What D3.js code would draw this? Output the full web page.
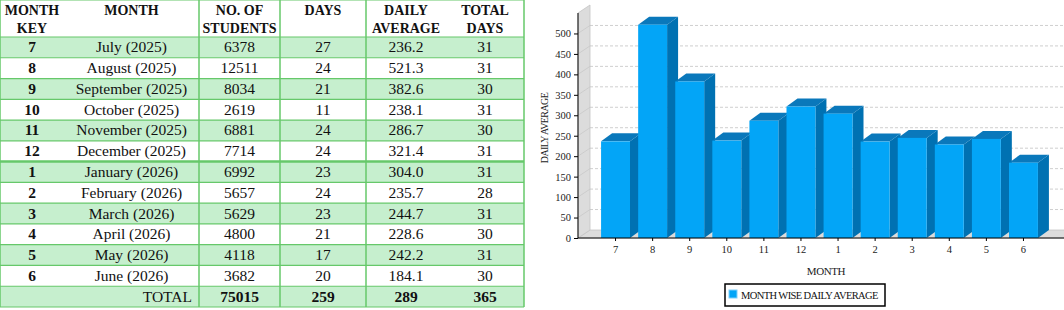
<!DOCTYPE html>
<html>
<head>
<meta charset="utf-8">
<script src="https://cdn.jsdelivr.net/npm/d3@7"></script>
<style>
  html, body { margin: 0; padding: 0; background: #fff; }
  svg { display: block; }
</style>
</head>
<body>
<div id="chart"></div>
<script>
// table + chart data
const month_keys = [7, 8, 9, 10, 11, 12, 1, 2, 3, 4, 5, 6];
const month_names = ["July (2025)", "August (2025)", "September (2025)", "October (2025)",
    "November (2025)", "December (2025)", "January (2026)", "February (2026)",
    "March (2026)", "April (2026)", "May (2026)", "June (2026)"];
const students = [6378, 12511, 8034, 2619, 6881, 7714, 6992, 5657, 5629, 4800, 4118, 3682];
const days = [27, 24, 21, 11, 24, 24, 23, 24, 23, 21, 17, 20];
const daily_average = [236.2, 521.3, 382.6, 238.1, 286.7, 321.4, 304.0, 235.7, 244.7, 228.6, 242.2, 184.1];
const total_days = [31, 31, 30, 31, 30, 31, 31, 28, 31, 30, 31, 30];
const total_row = ["", "TOTAL", "75015", "259", "289", "365"];
const header_lines = [["MONTH", "KEY"], ["MONTH"], ["NO. OF", "STUDENTS"], ["DAYS"], ["DAILY", "AVERAGE"], ["TOTAL", "DAYS"]];
const y_tick_values = [0, 50, 100, 150, 200, 250, 300, 350, 400, 450, 500];
const legend_label = "MONTH WISE DAILY AVERAGE";

const width = 1064;
const height = 310;

const green_fill = "#c6efce";
const green_line = "#66c86a";
const bar_front = "#03a5f7";
const bar_top = "#0a78bb";
const bar_side = "#0071b2";
const wall_color = "#dcdcdc";

const svg = d3.select("#chart").append("svg")
    .attr("width", width)
    .attr("height", height);

// ---------------- table ----------------
const col_edges = [0, 64, 199, 280, 366, 446, 524];
const header_bottom = 37;
const table_bottom = 307;

const rows = month_keys.map((k, i) => [
    String(k), month_names[i], String(students[i]), String(days[i]),
    daily_average[i].toFixed(1), String(total_days[i])
]);
rows.push(total_row);

const row_scale = d3.scaleBand()
    .domain(d3.range(rows.length))
    .range([header_bottom, table_bottom]);

const table = svg.append("g").attr("font-family", "'Liberation Serif', serif").attr("fill", "#111");

// row backgrounds (odd/even striping)
table.selectAll("rect.row-bg")
    .data(rows)
    .join("rect")
    .attr("class", "row-bg")
    .attr("x", 0)
    .attr("y", (d, i) => row_scale(i))
    .attr("width", col_edges[col_edges.length - 1])
    .attr("height", row_scale.bandwidth())
    .attr("fill", (d, i) => i % 2 === 0 ? green_fill : "#fff");

// horizontal lines
const h_lines = [0].concat(d3.range(rows.length + 1).map(i => i === rows.length ? table_bottom : row_scale(i)));
table.selectAll("line.h")
    .data(h_lines)
    .join("line")
    .attr("class", "h")
    .attr("x1", 0)
    .attr("x2", col_edges[col_edges.length - 1])
    .attr("y1", d => d)
    .attr("y2", d => d)
    .attr("stroke", green_line)
    .attr("stroke-width", (d, i) => i === 7 ? 2.5 : 1.2);

// vertical lines
const v_lines = [0, 199, 280, 366, 524];
table.selectAll("line.v")
    .data(v_lines)
    .join("line")
    .attr("class", "v")
    .attr("x1", d => d)
    .attr("x2", d => d)
    .attr("y1", 0)
    .attr("y2", table_bottom)
    .attr("stroke", green_line)
    .attr("stroke-width", 1.5);

// header text
header_lines.forEach((lines, c) => {
    const cx = (col_edges[c] + col_edges[c + 1]) / 2;
    lines.forEach((t, j) => {
        table.append("text")
            .attr("x", cx)
            .attr("y", 15 + j * 18)
            .attr("text-anchor", "middle")
            .attr("font-weight", "bold")
            .attr("font-size", 14)
            .text(t);
    });
});

// body text
rows.forEach((row, i) => {
    const is_total = i === rows.length - 1;
    row.forEach((t, c) => {
        if (t === "") return;
        let x = (col_edges[c] + col_edges[c + 1]) / 2;
        let anchor = "middle";
        if (is_total && c === 1) { x = 192; anchor = "end"; }
        table.append("text")
            .attr("x", x)
            .attr("y", row_scale(i) + row_scale.bandwidth() / 2 + 5)
            .attr("text-anchor", anchor)
            .attr("font-size", 15.5)
            .attr("font-weight", (c === 0 || (is_total && c > 1)) ? "bold" : "normal")
            .text(t);
    });
});

// ---------------- 3D bar chart ----------------
const axis_x = 578;
const right_edge = 1070;
const depth_x = 12;
const depth_y = 8;
const bar_dx = 11;
const bar_dy = 8;

const x = d3.scaleBand()
    .domain(month_keys.map(String))
    .range([597, 1042])
    .paddingInner(0.22)
    .paddingOuter(0.11);

const y = d3.scaleLinear()
    .domain([0, 550])
    .range([238, 13]);

const chart = svg.append("g");

// back grid lines (dashed)
chart.selectAll("line.grid")
    .data(y_tick_values.filter(v => v > 0))
    .join("line")
    .attr("class", "grid")
    .attr("x1", axis_x + depth_x)
    .attr("x2", right_edge)
    .attr("y1", d => y(d) - depth_y)
    .attr("y2", d => y(d) - depth_y)
    .attr("stroke", "#cfcfcf")
    .attr("stroke-dasharray", "3,2");

// floor
chart.append("path")
    .attr("d", `M${axis_x},${y(0)}L${axis_x + depth_x},${y(0) - depth_y}L${right_edge},${y(0) - depth_y}L${right_edge},${y(0)}Z`)
    .attr("fill", wall_color)
    .attr("stroke", "#c4c4c4")
    .attr("stroke-width", 0.8);

// side wall
chart.append("path")
    .attr("d", `M${axis_x},${y(0)}L${axis_x},${y(550)}L${axis_x + depth_x},${y(550) - depth_y}L${axis_x + depth_x},${y(0) - depth_y}Z`)
    .attr("fill", wall_color)
    .attr("stroke", "#c4c4c4")
    .attr("stroke-width", 0.8);

// side wall grid lines
chart.selectAll("line.wallgrid")
    .data(y_tick_values.filter(v => v > 0))
    .join("line")
    .attr("class", "wallgrid")
    .attr("x1", axis_x)
    .attr("x2", axis_x + depth_x)
    .attr("y1", d => y(d))
    .attr("y2", d => y(d) - depth_y)
    .attr("stroke", "#c6c6c6")
    .attr("stroke-width", 0.7);

// bars
const bars = chart.selectAll("g.bar")
    .data(month_keys.map((k, i) => ({key: String(k), value: daily_average[i]})))
    .join("g")
    .attr("class", "bar");

bars.append("path")
    .attr("d", d => {
        const x1 = x(d.key) + x.bandwidth();
        return `M${x1},${y(0)}L${x1},${y(d.value)}L${x1 + bar_dx},${y(d.value) - bar_dy}L${x1 + bar_dx},${y(0) - bar_dy}Z`;
    })
    .attr("fill", bar_side);

bars.append("path")
    .attr("d", d => {
        const x0 = x(d.key);
        const x1 = x0 + x.bandwidth();
        const yt = y(d.value);
        return `M${x0},${yt}L${x0 + bar_dx},${yt - bar_dy}L${x1 + bar_dx},${yt - bar_dy}L${x1},${yt}Z`;
    })
    .attr("fill", bar_top);

bars.append("rect")
    .attr("x", d => x(d.key))
    .attr("y", d => y(d.value))
    .attr("width", x.bandwidth())
    .attr("height", d => y(0) - y(d.value))
    .attr("fill", bar_front);

// y axis
const y_axis = chart.append("g")
    .attr("transform", `translate(${axis_x},0)`)
    .call(d3.axisLeft(y).tickValues(y_tick_values).tickSize(4).tickPadding(3));
y_axis.select(".domain").attr("d", `M0,${y(550)}V${y(0)}`).attr("stroke", "#000");

// x axis
const x_axis = chart.append("g")
    .attr("transform", `translate(0,${y(0)})`)
    .call(d3.axisBottom(x).tickSize(3).tickPadding(5));
x_axis.select(".domain").attr("d", `M${axis_x},0H${right_edge}`).attr("stroke", "#000");

chart.selectAll(".tick text")
    .attr("font-family", "'Liberation Serif', serif")
    .attr("font-size", 10.5)
    .attr("fill", "#222");

// axis titles
chart.append("text")
    .attr("transform", `translate(548,128) rotate(-90)`)
    .attr("text-anchor", "middle")
    .attr("font-family", "'Liberation Serif', serif")
    .attr("font-size", 10)
    .attr("letter-spacing", -0.6)
    .attr("fill", "#222")
    .text("DAILY AVERAGE");

chart.append("text")
    .attr("x", 826)
    .attr("y", 275)
    .attr("text-anchor", "middle")
    .attr("font-family", "'Liberation Serif', serif")
    .attr("font-size", 11)
    .attr("letter-spacing", -0.4)
    .attr("fill", "#222")
    .text("MONTH");

// legend
const legend = chart.append("g");
legend.append("rect")
    .attr("x", 725)
    .attr("y", 284)
    .attr("width", 160)
    .attr("height", 22)
    .attr("fill", "#fff")
    .attr("stroke", "#000")
    .attr("stroke-width", 1.5);
legend.append("rect")
    .attr("x", 729)
    .attr("y", 290)
    .attr("width", 8)
    .attr("height", 8)
    .attr("fill", bar_front)
    .attr("stroke", "#7fd0fb")
    .attr("stroke-width", 1);
legend.append("text")
    .attr("x", 741)
    .attr("y", 298.5)
    .attr("font-family", "'Liberation Serif', serif")
    .attr("font-size", 10.5)
    .attr("letter-spacing", -0.6)
    .attr("fill", "#111")
    .text(legend_label);
</script>
</body>
</html>
